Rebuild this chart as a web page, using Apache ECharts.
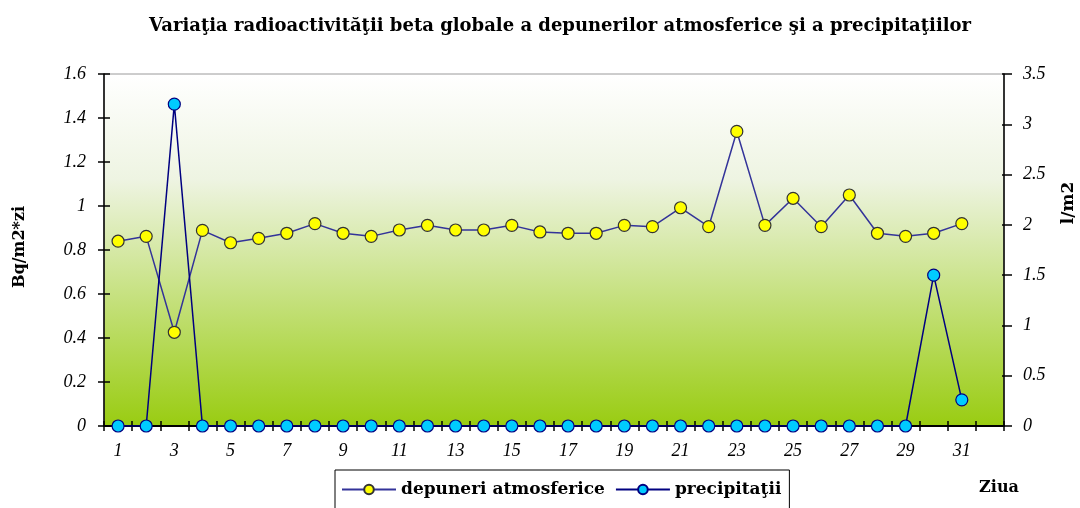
<!DOCTYPE html>
<html>
<head>
<meta charset="utf-8">
<script src="https://cdn.jsdelivr.net/npm/echarts@6/dist/echarts.min.js"></script>
<style>html,body{margin:0;padding:0;background:#fff}#c{width:1080px;height:508px}</style>
</head>
<body>
<div id="c"></div>
<script>
var days = ['1','2','3','4','5','6','7','8','9','10','11','12','13','14','15','16','17','18','19','20','21','22','23','24','25','26','27','28','29','30','31','32'];
var depuneri = [0.84,0.862,0.426,0.889,0.833,0.853,0.876,0.92,0.876,0.862,0.891,0.912,0.891,0.891,0.912,0.882,0.876,0.876,0.912,0.906,0.992,0.906,1.339,0.912,1.035,0.906,1.05,0.876,0.862,0.876,0.92];
var precipitatii = [0,0,3.2,0,0,0,0,0,0,0,0,0,0,0,0,0,0,0,0,0,0,0,0,0,0,0,0,0,0,1.5,0.26];
var leftTicks = {min:0, max:1.6, interval:0.2};
var rightTicks = {min:0, max:3.5, interval:0.5};

var serif = '"Liberation Serif", "Times New Roman", serif';
var wide = '"DejaVu Serif", serif';
var chart = echarts.init(document.getElementById('c'));
var tick = {color: '#000', width: 1.5};
chart.setOption({
  animation: false,
  title: {
    text: 'Variaţia radioactivităţii beta globale a depunerilor atmosferice şi a precipitaţiilor',
    left: 555, textAlign: 'center', top: 12,
    textStyle: {fontFamily: wide, fontWeight: 'bold', fontSize: 18, color: '#000'}
  },
  grid: {
    left: 104, right: 76, top: 74, bottom: 82, show: true,
    borderColor: '#9a9a9a', borderWidth: 1,
    backgroundColor: new echarts.graphic.LinearGradient(0,0,0,1,[
      {offset:0, color:'#ffffff'},
      {offset:0.3, color:'#eef4e2'},
      {offset:1, color:'#99cc11'}
    ])
  },
  legend: {
    left: 335, top: 470, itemWidth: 54, itemHeight: 12, itemGap: 10,
    padding: [11, 8, 20, 6],
    backgroundColor: '#fff', borderColor: '#000', borderWidth: 1,
    textStyle: {fontFamily: wide, fontWeight: 'bold', fontSize: 17, color: '#000'},
    data: ['depuneri atmosferice', 'precipitaţii']
  },
  xAxis: [{
    type: 'category', data: days, position: 'bottom', boundaryGap: true,
    axisLine: {lineStyle: {color: '#000', width: 2}},
    axisTick: {show: true, interval: 0, length: 5, lineStyle: tick},
    axisLabel: {interval: 1, margin: 16, fontFamily: serif, fontStyle: 'italic', fontSize: 18, color: '#000'},
    splitLine: {show: false}
  }, {
    type: 'category', data: days, position: 'bottom', boundaryGap: true,
    axisLine: {show: false},
    axisTick: {show: true, inside: true, interval: 0, length: 5, lineStyle: tick},
    axisLabel: {show: false}, splitLine: {show: false}
  }],
  yAxis: [{
    type: 'value', min: leftTicks.min, max: leftTicks.max, interval: leftTicks.interval, position: 'left',
    axisLine: {show: true, lineStyle: tick},
    axisTick: {show: true, length: 6, lineStyle: tick},
    axisLabel: {margin: 18, fontFamily: serif, fontStyle: 'italic', fontSize: 18, color: '#000'},
    splitLine: {show: false}
  }, {
    type: 'value', min: rightTicks.min, max: rightTicks.max, interval: rightTicks.interval, position: 'right',
    axisLine: {show: true, lineStyle: tick},
    axisTick: {show: true, length: 8, lineStyle: tick},
    axisLabel: {margin: 19, fontFamily: serif, fontStyle: 'italic', fontSize: 18, color: '#000'},
    splitLine: {show: false}
  }, {
    type: 'value', min: leftTicks.min, max: leftTicks.max, interval: leftTicks.interval, position: 'left',
    axisLine: {show: false},
    axisTick: {show: true, inside: true, length: 6, lineStyle: tick},
    axisLabel: {show: false}, splitLine: {show: false}
  }, {
    type: 'value', min: rightTicks.min, max: rightTicks.max, interval: rightTicks.interval, position: 'right',
    axisLine: {show: false},
    axisTick: {show: true, inside: true, length: 2, lineStyle: tick},
    axisLabel: {show: false}, splitLine: {show: false}
  }],
  graphic: [
    {type: 'text', rotation: Math.PI/2, style: {text: 'Bq/m2*zi', textAlign: 'center', textVerticalAlign: 'middle', font: 'bold 16px ' + wide, fill: '#000'}, position: [20, 247]},
    {type: 'text', rotation: Math.PI/2, style: {text: 'l/m2', textAlign: 'center', textVerticalAlign: 'middle', font: 'bold 17px ' + wide, fill: '#000'}, position: [1069, 203]},
    {type: 'text', style: {text: 'Ziua', textAlign: 'center', textVerticalAlign: 'middle', font: 'bold 16px ' + wide, fill: '#000'}, position: [999, 488]}
  ],
  series: [{
    name: 'depuneri atmosferice', type: 'line', xAxisIndex: 0, yAxisIndex: 0, data: depuneri,
    symbol: 'circle', symbolSize: 12,
    lineStyle: {color: '#333399', width: 1.5},
    itemStyle: {color: '#ffff00', borderColor: '#333333', borderWidth: 1.2},
    z: 3
  }, {
    name: 'precipitaţii', type: 'line', xAxisIndex: 0, yAxisIndex: 1, data: precipitatii,
    symbol: 'circle', symbolSize: 12,
    lineStyle: {color: '#000080', width: 1.5},
    itemStyle: {color: '#00ccff', borderColor: '#000080', borderWidth: 1.2},
    z: 4
  }]
});
</script>
</body>
</html>
